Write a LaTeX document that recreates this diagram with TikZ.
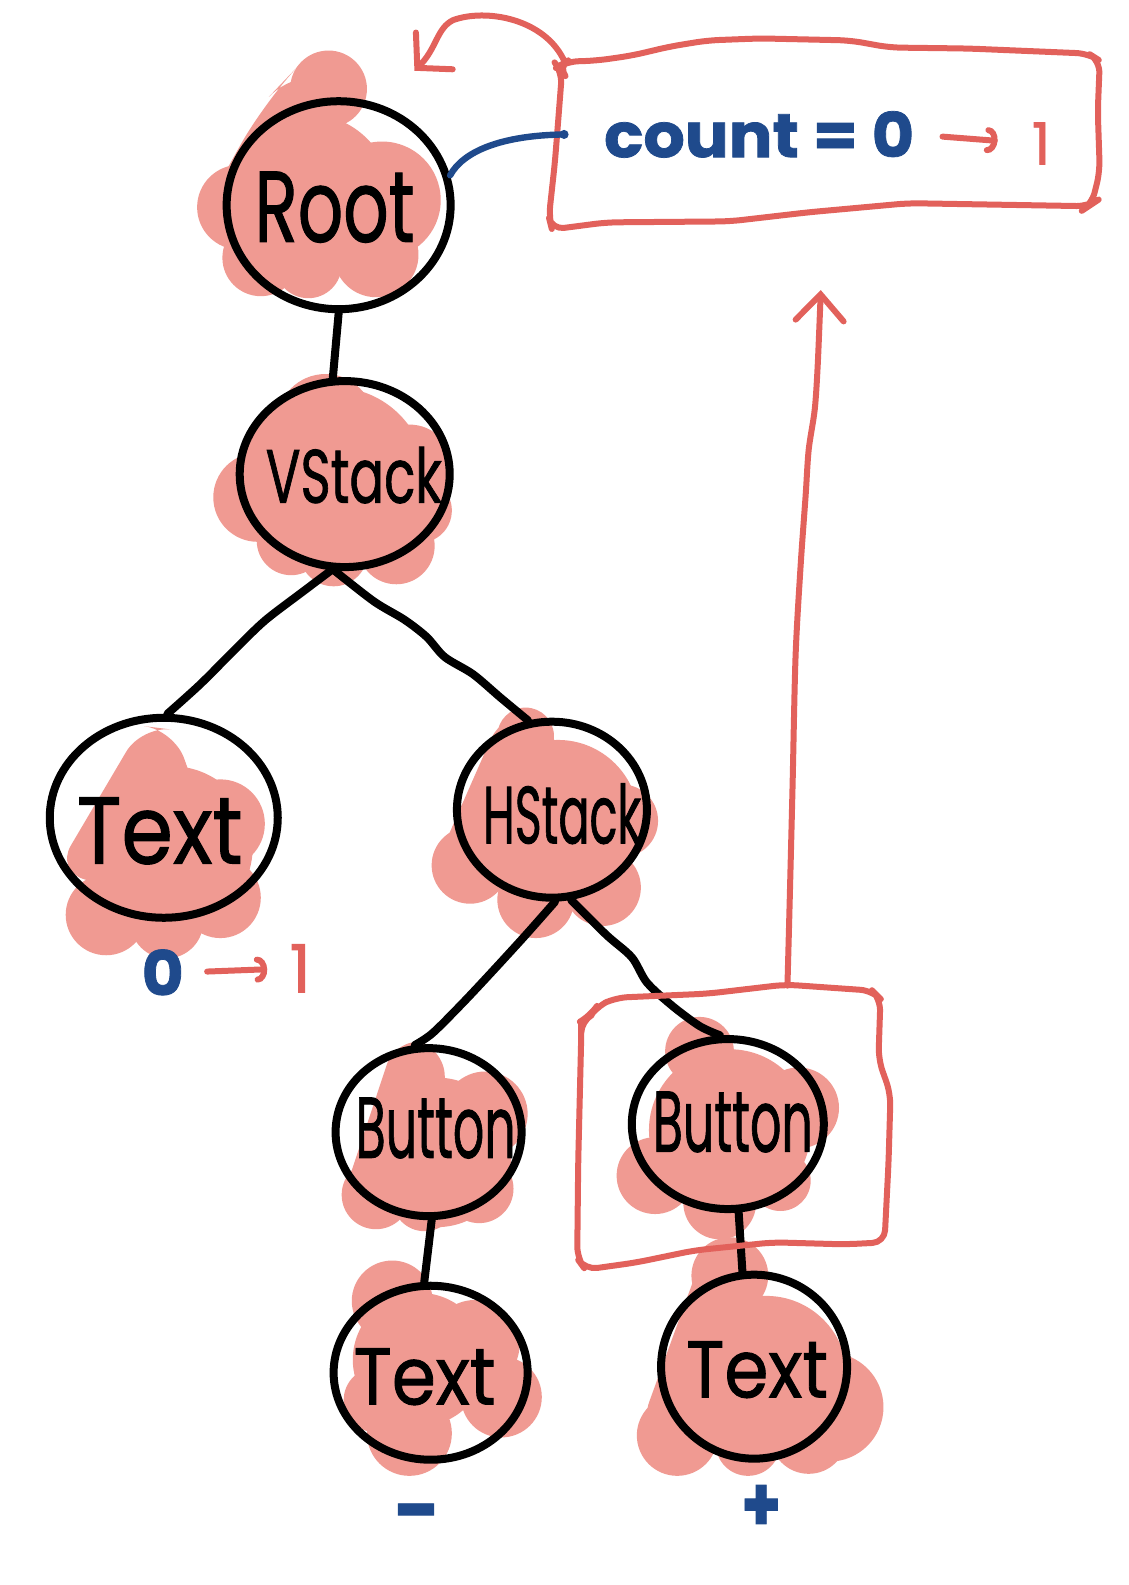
\documentclass[tikz,border=0pt]{standalone}
\usepackage{fontspec}
\setmainfont{Poppins}
\newfontfamily\handfont{Poppins}[FakeBold=1.2]
\usepackage{graphicx}
\usetikzlibrary{shapes.geometric,arrows.meta}
\definecolor{blob}{HTML}{F09A92}
\definecolor{redink}{HTML}{E2615B}
\definecolor{blueink}{HTML}{1F4A8C}
% handwritten-looking word squeezed into a given box
\newcommand{\hw}[3]{\resizebox{#1}{#2}{#3}}

\begin{document}
\begin{tikzpicture}[x=0.5054pt,y=-0.5054pt,
  bubble/.style={ellipse, draw=black, line width=4pt, inner sep=0pt},
  word/.style={inner sep=0pt, text=black, font=\handfont},
  wire/.style={draw=black, line width=4pt, line cap=round, line join=round},
  redline/.style={draw=redink, line width=3pt, line cap=round, line join=round},
  blueline/.style={draw=blueink, line width=3.2pt, line cap=round},
  arctip/.style={-{Arc Barb[length=5pt,width=13pt,line cap=round]}}
]
\fill[white] (0,0) rectangle (1116,1568);
\useasboundingbox (0,0) rectangle (1116,1568);

% ---------- highlight blobs ----------
% Root
\fill[blob] (325,88) circle (38);
\fill[blob, rounded corners=25] (198,215) -- (262,100) -- (300,60) -- (345,80) -- (330,250) -- cycle;
\fill[blob] (237,205) circle (42);
\fill[blob] (305,195) circle (82);
\fill[blob] (378,198) circle (58);
\fill[blob] (258,255) circle (38);
\fill[blob] (305,262) circle (33);
\fill[blob] (372,252) circle (42);
% VStack
\fill[blob] (322,418) circle (48);
\fill[blob] (330,475) circle (92);
\fill[blob] (405,463) circle (43);
\fill[blob] (415,505) circle (32);
\fill[blob] (255,492) circle (44);
\fill[blob] (288,535) circle (34);
\fill[blob] (330,546) circle (34);
\fill[blob] (392,540) circle (38);
% Text (left)
\fill[blob, rounded corners=15] (140,718) -- (172,722) -- (200,800) -- (120,880) -- (55,862) -- cycle;
\fill[blob] (170,838) circle (80);
\fill[blob] (218,815) circle (44);
\fill[blob] (105,905) circle (40);
\fill[blob] (165,912) circle (36);
\fill[blob] (218,888) circle (40);
% HStack
\fill[blob, rounded corners=15] (497,705) -- (535,700) -- (560,760) -- (470,880) -- (428,862) -- cycle;
\fill[blob] (520,728) circle (28);
\fill[blob] (552,812) circle (80);
\fill[blob] (465,856) circle (38);
\fill[blob] (530,890) circle (38);
\fill[blob] (596,878) circle (38);
\fill[blob] (615,812) circle (36);
% Button (left)
\fill[blob, rounded corners=15] (392,1025) -- (440,1035) -- (440,1160) -- (338,1188) -- cycle;
\fill[blob] (432,1140) circle (74);
\fill[blob] (480,1102) circle (42);
\fill[blob] (372,1182) circle (34);
\fill[blob] (420,1186) circle (32);
\fill[blob] (474,1176) circle (34);
% Button (right)
\fill[blob] (692,1040) circle (34);
\fill[blob] (722,1118) circle (80);
\fill[blob] (790,1096) circle (40);
\fill[blob] (648,1163) circle (38);
\fill[blob] (712,1190) circle (36);
\fill[blob] (772,1168) circle (30);
% Text (bottom left)
\fill[blob] (388,1287) circle (40);
\fill[blob] (415,1345) circle (66);
\fill[blob] (470,1330) circle (44);
\fill[blob] (496,1382) circle (40);
\fill[blob] (405,1418) circle (42);
\fill[blob] (372,1385) circle (32);
% Text (bottom right)
\fill[blob, rounded corners=15] (700,1228) -- (745,1230) -- (760,1330) -- (655,1430) -- (632,1415) -- cycle;
\fill[blob] (722,1262) circle (38);
\fill[blob] (758,1362) circle (80);
\fill[blob] (670,1420) circle (40);
\fill[blob] (740,1428) circle (32);
\fill[blob] (820,1392) circle (54);
\fill[blob] (800,1420) circle (38);

% ---------- tree nodes ----------
\node[bubble, minimum width=112pt, minimum height=104pt] (root)   at (335,203)  {};
\node[bubble, minimum width=105pt, minimum height=93pt]  (vstack) at (341,469)  {};
\node[bubble, minimum width=114pt, minimum height=100pt] (textl)  at (162,809)  {};
\node[bubble, minimum width=95pt,  minimum height=88pt]  (hstack) at (546,801)  {};
\node[bubble, minimum width=93pt,  minimum height=84pt]  (bleft)  at (424,1120) {};
\node[bubble, minimum width=96pt,  minimum height=85pt]  (bright) at (720,1112) {};
\node[bubble, minimum width=97pt,  minimum height=87pt]  (tbl)    at (426,1358) {};
\node[bubble, minimum width=93pt,  minimum height=92pt]  (tbr)    at (746,1352) {};

\node[word] (rootlbl)   at (331,205)  {\hw{80pt}{35pt}{Root}};
\node[word] (vstacklbl) at (350,470)  {\hw{88pt}{28pt}{VStack}};
\node[word] (textllbl)  at (158,822)  {\hw{83pt}{33pt}{Text}};
\node[word] (hstacklbl) at (556,805)  {\hw{79pt}{30pt}{HStack}};
\node[word] (bleftlbl)  at (431,1116) {\hw{80pt}{30pt}{Button}};
\node[word] (brightlbl) at (725,1110) {\hw{80pt}{30pt}{Button}};
\node[word] (tbllbl)    at (420,1362) {\hw{71pt}{28pt}{Text}};
\node[word] (tbrlbl)    at (749,1355) {\hw{71pt}{28pt}{Text}};

% ---------- tree edges ----------
\draw[wire] (root.south) -- (vstack.97);
\draw[wire] plot[smooth, tension=0.5] coordinates {(vstack.262) (300,585) (262,614) (232,643) (198,677) (textl.88)};
\draw[wire] plot[smooth, tension=0.5] coordinates {(vstack.264) (370,595) (400,613) (422,630) (440,650) (468,667) (495,690) (hstack.105)};
\draw[wire] plot[smooth, tension=0.5] coordinates {(hstack.272) (520,925) (488,960) (458,992) (428,1022) (bleft.99)};
\draw[wire] plot[smooth, tension=0.5] coordinates {(hstack.282) (600,925) (625,947) (640,972) (665,995) (692,1015) (bright.95)};
\draw[wire] (bleft.272) -- (tbl.94);
\draw[wire] (bright.277) -- (tbr.97);

% ---------- state box ----------
\draw[redline, rounded corners=6] (556,71) -- (552,66) -- (560,61) -- (590,60) -- (625,55) -- (663,46) -- (700,40) -- (752,38) -- (841,40) -- (880,47) -- (958,48) -- (1077,53) -- (1088,60) -- (1086,110) -- (1088,170) -- (1080,202) -- (1077,204) -- (899,201) -- (800,210) -- (722,219) -- (600,220) -- (546,227) -- (543,215) -- (549,160) -- cycle;
\coordinate (boxcorner) at (559,62);
\coordinate (boxleft) at (558,133);
\coordinate (loopend) at (410,70);

\node[word, text=blueink] (countlbl) at (751,133)  {\hw{155pt}{23pt}{\bfseries count = 0}};
\node[word, text=redink]  (countnew) at (1030,142) {\resizebox{!}{21pt}{1}};
\draw[redline, arctip, shorten <=14pt, shorten >=17pt] (countlbl.east) -- (countnew.west);

\draw[redline, -{Straight Barb[length=12pt,width=26pt,line cap=round]}] (boxcorner) .. controls (540,18) and (480,8) .. (448,20) .. controls (432,28) and (432,48) .. (loopend);

\draw[blueline] (root.15) .. controls (458,150) and (495,134) .. (boxleft);
\fill[blueink] (boxleft) circle (4.5);

% ---------- value change under the left Text ----------
\node[word, text=blueink] (oldval) at (161,962) {\hw{21pt}{23pt}{\bfseries 0}};
\node[word, text=redink]  (newval) at (297,958) {\resizebox{!}{24pt}{1}};
\draw[redline, arctip, shorten <=11.5pt, shorten >=11pt] (oldval.east) -- (newval.west);

% ---------- button labels ----------
\node[word, text=blueink, anchor=base] (minus) at (413,1521) {\fontsize{40pt}{40pt}\selectfont\bfseries -};
\node[word, text=blueink] (plus) at (753,1492) {\hw{20pt}{23pt}{\bfseries +}};

% ---------- highlighted button and update arrow ----------
\draw[redline, rounded corners=6] (575,1010) -- (584,1005) -- (590,996) -- (609,987) -- (700,983) -- (777,974) -- (863,980) -- (871,988) -- (869,1048) -- (881,1082) -- (879,1150) -- (875,1229) -- (836,1231) -- (765,1229) -- (687,1237) -- (629,1249) -- (579,1256) -- (571,1245) -- (572,1150) -- (575,1025) -- cycle;
\coordinate (focustop) at (779,975);
\coordinate (focusaim) at (812,287);
\draw[redline, -{Straight Barb[length=13pt,width=24pt,line cap=round]}] plot[smooth, tension=0.5] coordinates {(focustop) (781,900) (784,780) (787,650) (792,560) (797,490) (800,445) (806,405) (809,360) (focusaim)};
\end{tikzpicture}
\end{document}
